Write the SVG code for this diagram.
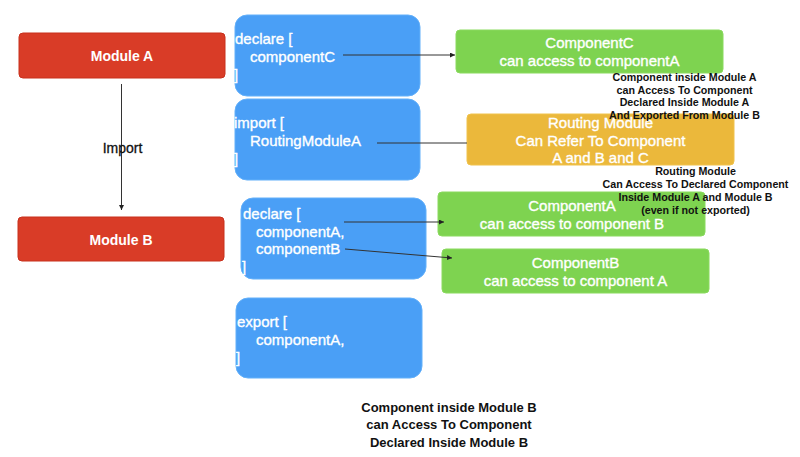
<svg xmlns="http://www.w3.org/2000/svg" width="800" height="457" viewBox="0 0 800 457">
<style>
.red{fill:#d93c27;stroke:#c8301d;stroke-width:1}
.blue{fill:#4a9ff6;stroke:#63b0fa;stroke-width:1}
.green{fill:#7ed350;stroke:#8ada5e;stroke-width:1}
.orange{fill:#ebb83b;stroke:#f0c24c;stroke-width:1}
text{font-family:"Liberation Sans",Arial,sans-serif}
.w{fill:#fff;font-size:15px;stroke:#fff;stroke-width:0.35}
.wb{fill:#fff;font-size:14px;font-weight:bold}
.c{text-anchor:middle}
.note{fill:#111;font-size:10.7px;font-weight:bold;text-anchor:middle}
.note2{fill:#111;font-size:13px;font-weight:bold;text-anchor:middle}
.conn{stroke:#333;stroke-width:1;fill:none}
</style>
<defs>
<marker id="arr" viewBox="0 0 8 8" refX="8" refY="4" markerWidth="5" markerHeight="5" orient="auto" markerUnits="userSpaceOnUse">
<path d="M0,0 L8,4 L0,8 Z" fill="#222"/>
</marker>
</defs>
<rect width="800" height="457" fill="#fff"/>
<g id="moduleA"><rect class="red" x="19" y="33" width="206" height="45" rx="4"/><text class="wb c" x="122" y="61">Module A</text></g>
<g id="moduleB"><rect class="red" x="18" y="217" width="206" height="44" rx="4"/><text class="wb c" x="121" y="245">Module B</text></g>
<g id="declareA"><rect class="blue" x="235" y="15" width="185" height="81" rx="12"/>
<text class="w" x="235" y="44">declare [</text><text class="w" x="250" y="62">componentC</text><text class="w" x="234" y="80">]</text></g>
<g id="importA"><rect class="blue" x="235" y="99" width="185" height="81" rx="12"/>
<text class="w" x="234" y="128">import [</text><text class="w" x="250" y="146">RoutingModuleA</text><text class="w" x="234" y="164">]</text></g>
<g id="declareB"><rect class="blue" x="241" y="198" width="185" height="81" rx="12"/>
<text class="w" x="243" y="219">declare [</text><text class="w" x="256" y="237">componentA,</text><text class="w" x="256" y="254">componentB</text><text class="w" x="242" y="272">]</text></g>
<g id="exportB"><rect class="blue" x="236" y="298" width="186" height="80" rx="12"/>
<text class="w" x="237" y="327">export [</text><text class="w" x="256" y="345">componentA,</text><text class="w" x="236" y="363">]</text></g>
<g id="componentC"><rect class="green" x="456" y="30" width="267" height="43" rx="4"/>
<text class="w c" x="589.5" y="48">ComponentC</text><text class="w c" x="589.5" y="66">can access to componentA</text></g>
<g id="routing"><rect class="orange" x="467" y="114" width="267" height="51" rx="4"/>
<text class="w c" x="600.5" y="128">Routing Module</text><text class="w c" x="600.5" y="146">Can Refer To Component</text><text class="w c" x="600.5" y="163">A and B and C</text></g>
<g id="componentA"><rect class="green" x="438" y="192" width="267" height="44" rx="4"/>
<text class="w c" x="572" y="211">ComponentA</text><text class="w c" x="572" y="229">can access to component B</text></g>
<g id="componentB"><rect class="green" x="442" y="249" width="267" height="44" rx="4"/>
<text class="w c" x="575.5" y="268">ComponentB</text><text class="w c" x="575.5" y="286">can access to component A</text></g>
<g id="connectors">
<line class="conn" x1="121.5" y1="84" x2="121.5" y2="210" marker-end="url(#arr)"/>
<line class="conn" x1="343" y1="55" x2="455" y2="55" marker-end="url(#arr)"/>
<line class="conn" x1="377" y1="143" x2="467" y2="143"/>
<line class="conn" x1="344" y1="222" x2="444" y2="222" marker-end="url(#arr)"/>
<line class="conn" x1="345" y1="249" x2="452" y2="258" marker-end="url(#arr)"/>
</g>
<g id="importLabel"><text class="c" x="122.5" y="153" style="font-size:14px;fill:#111;stroke:#111;stroke-width:0.3">Import</text></g>
<g id="noteA"><text class="note"><tspan x="684.5" y="81">Component inside Module A</tspan><tspan x="684.5" y="94">can Access To Component</tspan><tspan x="684.5" y="106">Declared Inside Module A</tspan><tspan x="684.5" y="119">And Exported From Module B</tspan></text></g>
<g id="noteRouting"><text class="note"><tspan x="695.5" y="175">Routing Module</tspan><tspan x="695.5" y="188">Can Access To Declared Component</tspan><tspan x="695.5" y="201">Inside Module A and Module B</tspan><tspan x="695.5" y="214">(even if not exported)</tspan></text></g>
<g id="noteB"><text class="note2"><tspan x="449" y="412">Component inside Module B</tspan><tspan x="449" y="429">can Access To Component</tspan><tspan x="449" y="447">Declared Inside Module B</tspan></text></g>
</svg>
